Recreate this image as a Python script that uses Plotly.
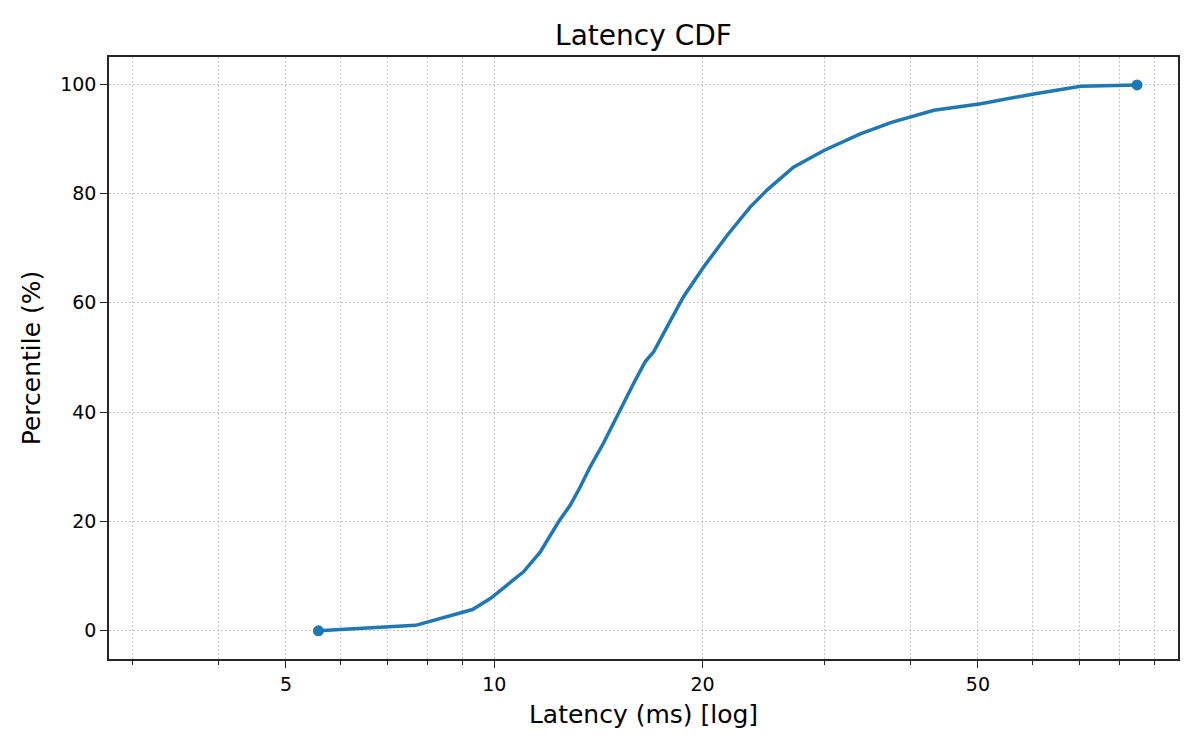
import numpy as np
import plotly.graph_objects as go

# latency quantiles (ms), with their percentiles
latency_ms = [5.57, 7.7, 9.3, 9.87, 11.02, 11.65, 12.38, 12.88, 13.31, 13.76,
              14.38, 15.13, 15.89, 16.52, 16.99, 17.67, 18.77, 20.06, 21.7, 23.43,
              24.78, 27.06, 30.0, 33.8, 37.5, 43.2, 50.5, 60.2, 70.4, 84.9]
percentile = [0, 1.0, 3.9, 5.9, 10.8, 14.4, 19.9, 23.0, 26.3, 30.0,
              34.3, 40.0, 45.2, 49.2, 51.0, 55.0, 61.1, 66.5, 72.3, 77.5,
              80.6, 84.8, 87.9, 90.9, 93.0, 95.2, 96.4, 98.2, 99.6, 99.85]

x_major = [5, 10, 20, 50]
x_minor = [3, 4, 6, 7, 8, 9, 30, 40, 60, 70, 80, 90]
y_ticks = [0, 20, 40, 60, 80, 100]

blue = '#1f77b4'
axis_col = '#262626'
grid_col = '#c8c8c8'
grid_dash = '1.5px,2.5px'
font = 'DejaVu Sans'

# page body has an 8px margin, so the figure is a bit smaller than the window
W, H = 1184, 734

fig = go.Figure()
fig.add_trace(go.Scatter(x=latency_ms, y=percentile, mode='lines',
                         line=dict(color=blue, width=3.5), showlegend=False))
# dots only on the two ends
fig.add_trace(go.Scatter(x=[latency_ms[0], latency_ms[-1]],
                         y=[percentile[0], percentile[-1]], mode='markers',
                         marker=dict(color=blue, size=11), showlegend=False))

fig.update_layout(
    width=W, height=H,
    margin=dict(l=101, r=14, t=49, b=83),
    plot_bgcolor='white', paper_bgcolor='white',
    font=dict(family=font, color='black', size=19),
    title=dict(text='Latency CDF', x=0.5, xref='paper', xanchor='center',
               y=1 - 27 / H, yanchor='middle', yref='container',
               font=dict(size=28)),
)
fig.update_xaxes(
    type='log', range=[np.log10(2.775), np.log10(97.3)],
    tickmode='array', tickvals=x_major, ticktext=[str(v) for v in x_major],
    ticks='outside', ticklen=7, tickwidth=1.2, tickcolor=axis_col,
    showline=True, linecolor=axis_col, linewidth=1.6, mirror=True,
    showgrid=True, gridcolor=grid_col, griddash=grid_dash, gridwidth=1.2,
    minor=dict(tickmode='array', tickvals=x_minor, ticks='outside', ticklen=4,
               tickwidth=1, tickcolor=axis_col, showgrid=True,
               gridcolor=grid_col, griddash=grid_dash, gridwidth=1.2),
    zeroline=False,
    title=dict(text='Latency (ms) [log]', font=dict(size=25), standoff=12),
)
fig.update_yaxes(
    range=[-5.15, 104.95],
    tickmode='array', tickvals=y_ticks,
    ticks='outside', ticklen=7, tickwidth=1.2, tickcolor=axis_col,
    showline=True, linecolor=axis_col, linewidth=1.6, mirror=True,
    showgrid=True, gridcolor=grid_col, griddash=grid_dash, gridwidth=1.2,
    zeroline=False,
    title=dict(text='Percentile (%)', font=dict(size=25), standoff=12),
)

fig.write_html('out.html')
